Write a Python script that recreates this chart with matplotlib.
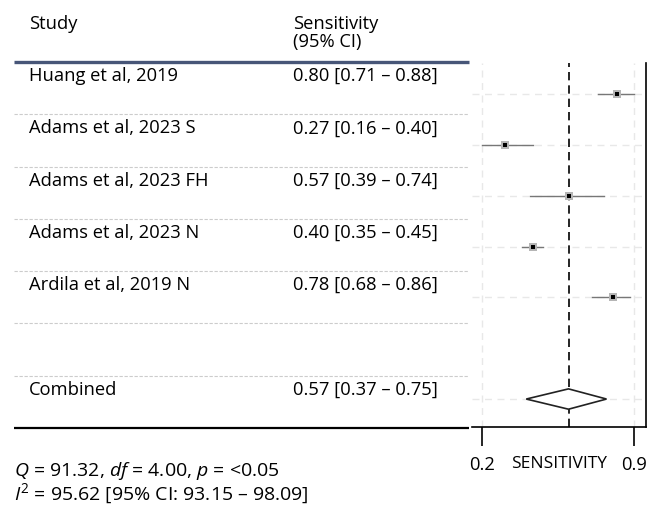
import matplotlib
matplotlib.use("Agg")
import matplotlib.pyplot as plt
from matplotlib.patches import Polygon

plt.rcParams['font.family'] = ['Open Sans', 'DejaVu Sans']
plt.rcParams['mathtext.fontset'] = 'custom'
plt.rcParams['mathtext.rm'] = 'Open Sans'
plt.rcParams['mathtext.it'] = 'Open Sans:italic'

studies = ["Huang et al, 2019", "Adams et al, 2023 S", "Adams et al, 2023 FH",
           "Adams et al, 2023 N", "Ardila et al, 2019 N"]
sens = [0.80, 0.27, 0.57, 0.40, 0.78]
lows = [0.71, 0.16, 0.39, 0.35, 0.68]
highs = [0.88, 0.40, 0.74, 0.45, 0.86]
pooled_label = "Combined"
pooled = 0.57
pooled_lo = 0.37
pooled_hi = 0.75
stats_line1 = r"$Q$ = 91.32, $df$ = 4.00, $p$ = <0.05"
stats_line2 = r"$I^2$ = 95.62 [95% CI: 93.15 – 98.09]"
xlabel = "SENSITIVITY"

W, H = 648, 511
fig = plt.figure(figsize=(W / 100, H / 100), dpi=100)

# Table axis in pixel coordinates
axT = fig.add_axes([0, 0, 1, 1])
axT.set_xlim(0, W)
axT.set_ylim(H, 0)
axT.axis('off')

fs = 13.2
axT.text(29, 24, "Study", fontsize=fs, va='center', ha='left')
axT.text(293, 24, "Sensitivity", fontsize=fs, va='center', ha='left')
axT.text(293, 42, "(95% CI)", fontsize=fs, va='center', ha='left')

top = 62
n_rows = len(studies) + 2
row_h = (428 - top) / n_rows
axT.plot([14, 469], [top, top], color='#475678', lw=2.4, solid_capstyle='butt')
axT.plot([14, 469], [428, 428], color='black', lw=1.6, solid_capstyle='butt')

labels = studies + ["", pooled_label]
vals = [f"{s:.2f} [{l:.2f} – {h:.2f}]" for s, l, h in zip(sens, lows, highs)] + \
       ["", f"{pooled:.2f} [{pooled_lo:.2f} – {pooled_hi:.2f}]"]
for i, (lab, v) in enumerate(zip(labels, vals)):
    ytxt = top + row_h * i + 14
    if lab:
        axT.text(29, ytxt, lab, fontsize=fs, va='center', ha='left')
        axT.text(293, ytxt, v, fontsize=fs, va='center', ha='left')
    if i > 0:
        ys = top + row_h * i
        axT.plot([14, 469], [ys, ys], color='#cccccc', lw=0.8, ls=(0, (3, 1.5)))

axT.text(14, 471, stats_line1, fontsize=14, va='center', ha='left')
axT.text(14, 494, stats_line2, fontsize=14, va='center', ha='left')

# Forest axis
axF = fig.add_axes([472 / W, (H - 427) / H, 174 / W, 364 / H])
ypos = list(range(len(studies))) + [len(studies) + 1]
axF.set_ylim(6.55, -0.61)
xmin, xmax = min(lows), max(highs)
axF.set_xlim(xmin - 0.047, xmax + 0.057)

for y, s, l, h in zip(ypos[:-1], sens, lows, highs):
    axF.plot([l, h], [y, y], color='#777777', lw=1.0, zorder=3)
    axF.plot(s, y, marker='s', ms=5.5, color='#b5b5b5', mew=0, zorder=4)
    axF.plot(s, y, marker='s', ms=2.6, color='black', mew=0, zorder=5)

yc = ypos[-1]
dh = 0.2
diamond = Polygon([[pooled_lo, yc], [pooled, yc - dh], [pooled_hi, yc], [pooled, yc + dh]],
                  closed=True, facecolor='white', edgecolor='#222222', lw=1.2, zorder=4)
axF.add_patch(diamond)
axF.axvline(pooled, color='black', lw=1.2, ls=(0, (5, 3)), zorder=2)

axF.set_yticks(ypos)
axF.set_yticklabels([])
axF.tick_params(axis='y', length=0)
axF.set_xticks([xmin, xmax])
axF.set_xticklabels([f"{xmin:.1f}", f"{xmax:.1f}"], fontsize=fs)
axF.tick_params(axis='x', direction='out', length=14, width=1.2, pad=7)
axF.grid(True, color='#e8e8e8', lw=1.0, ls=(0, (5, 4)))
axF.set_axisbelow(True)
axF.spines['top'].set_visible(False)
axF.spines['left'].set_visible(False)
axF.spines['right'].set_linewidth(1.2)
axF.spines['bottom'].set_linewidth(1.2)
axF.set_xlabel(xlabel, fontsize=12.5, labelpad=-13)

fig.savefig("out.png", dpi=100)
